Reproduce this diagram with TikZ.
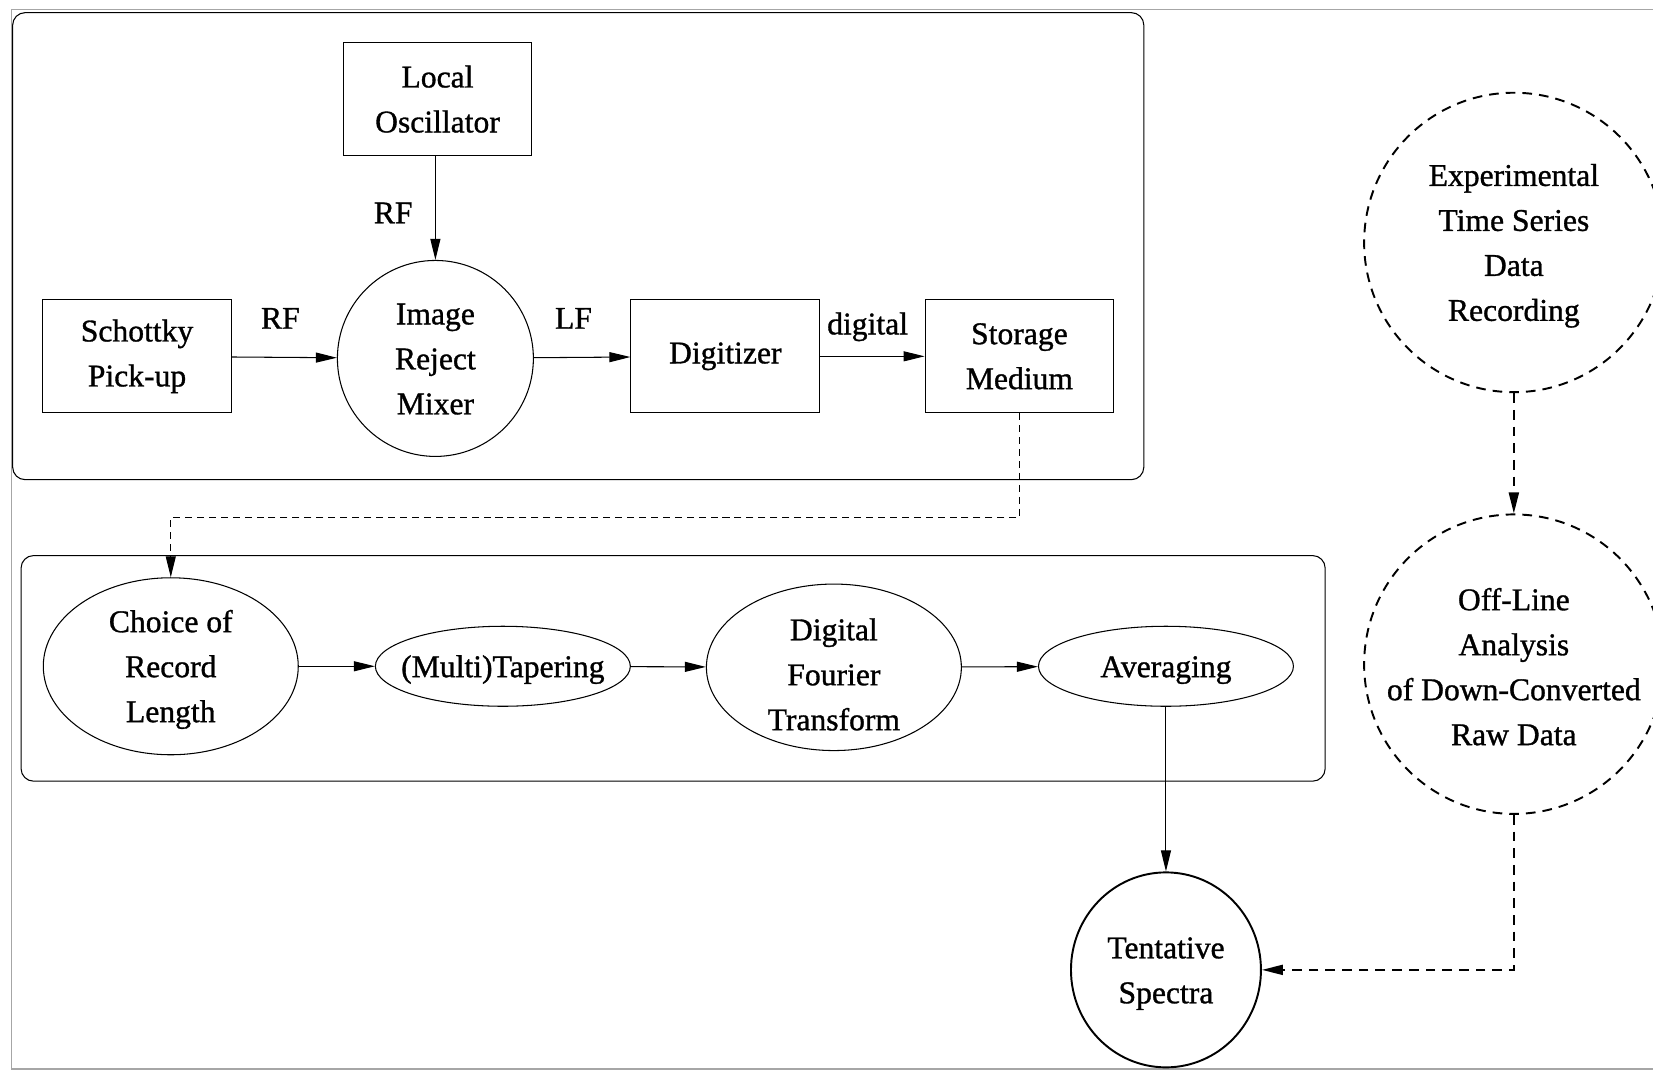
\documentclass[tikz,border=0pt]{standalone}
\usepackage{fontspec}
\setmainfont{Liberation Serif}[BoldFont={Liberation Serif}, BoldFeatures={FakeBold=1}]
\usetikzlibrary{arrows.meta,shapes.geometric}
\newcommand{\inell}[2][0pt]{\makebox[0pt]{\raisebox{\dimexpr-0.3em-#1\relax}[0pt][0pt]{\begin{tabular}{@{}c@{}}#2\end{tabular}}}}

\begin{document}
\begin{tikzpicture}[x=0.021084cm, y=-0.021084cm,
    font=\fontsize{18}{25.6}\selectfont\bfseries,
    block/.style ={rectangle, draw, line width=0.6pt, inner sep=0pt,
      minimum width=3.774cm, minimum height=2.256cm, align=center},
    process/.style ={ellipse, draw, line width=0.6pt, inner sep=0pt, minimum width=5.1cm},
    dataset/.style ={ellipse, draw, line width=1.1pt, dash pattern=on 5.5pt off 4pt,
      inner sep=0pt, minimum width=5.99cm, minimum height=5.99cm},
    tag/.style ={inner sep=0pt},
    flow/.style ={line width=0.6pt, -{Triangle[length=0.42cm, width=0.2cm]}},
    panel/.style ={draw, line width=0.6pt, rounded corners=0.25cm}]
   \useasboundingbox (0,0) rectangle (1568,1016);
   \clip (0,0) rectangle (1568,1016);
   \draw[gray!70, line width=0.6pt] (11,9) rectangle (1640,1014);

   % acquisition chain
   \draw[panel] (12,12) rectangle (1085,455);
   \node[block] (LO)  at (415,94)  {Local\\Oscillator};
   \node[block] (SP)  at (130,338) {Schottky\\Pick-up};
   \node[process, minimum width=3.92cm, minimum height=3.92cm] (IRM) at (413,340) {\inell{Image\\Reject\\Mixer}};
   \node[block] (DG)  at (688,338) {Digitizer};
   \node[block] (SM)  at (967,338) {Storage\\Medium};

   \node[tag] (RFa) at (266,302) {RF};
   \node[tag] (RFb) at (373,202) {RF};
   \node[tag] (LF)  at (544,302) {LF};
   \node[tag] (DIG) at (823,310) {digital};

   \draw[flow] (SP) -- (IRM);
   \draw[flow] (LO.south -| IRM) -- (IRM);
   \draw[flow] (IRM) -- (DG);
   \draw[flow] (DG) -- (SM);

   % analysis chain
   \draw[panel] (20,527) rectangle (1257,741);
   \node[process, minimum height=3.54cm] (CR)  at (162,632)  {\inell{Choice of\\Record\\Length}};
   \node[process, minimum height=1.6cm]  (MT)  at (477,632)  {\inell{(Multi)Tapering}};
   \node[process, minimum height=3.33cm] (DFT) at (791,633)  {\inell[4pt]{Digital\\Fourier\\Transform}};
   \node[process, minimum height=1.6cm]  (AV)  at (1106,632) {\inell{Averaging}};
   \node[process, line width=1.1pt, minimum width=3.8cm, minimum height=3.9cm] (TS) at (1106,920) {\inell{Tentative\\Spectra}};

   \draw[flow, dash pattern=on 4pt off 2.8pt] (SM.south) -- ++(0,99) -| (CR.north);
   \draw[flow] (CR) -- (MT);
   \draw[flow] (MT) -- (DFT);
   \draw[flow] (DFT) -- (AV);
   \draw[flow] (AV) -- (TS);

   % recorded data path
   \node[dataset] (ETS) at (1436,230) {\inell{Experimental\\Time Series\\Data\\Recording}};
   \node[dataset] (OL)  at (1436,630) {\inell[1.5pt]{Off-Line\\Analysis\\of Down-Converted\\Raw Data}};

   \draw[flow, line width=1.1pt, dash pattern=on 5.5pt off 4pt] (ETS) -- (OL);
   \draw[flow, line width=1.1pt, dash pattern=on 5.5pt off 4pt] (OL) |- (TS);
\end{tikzpicture}
\end{document}
